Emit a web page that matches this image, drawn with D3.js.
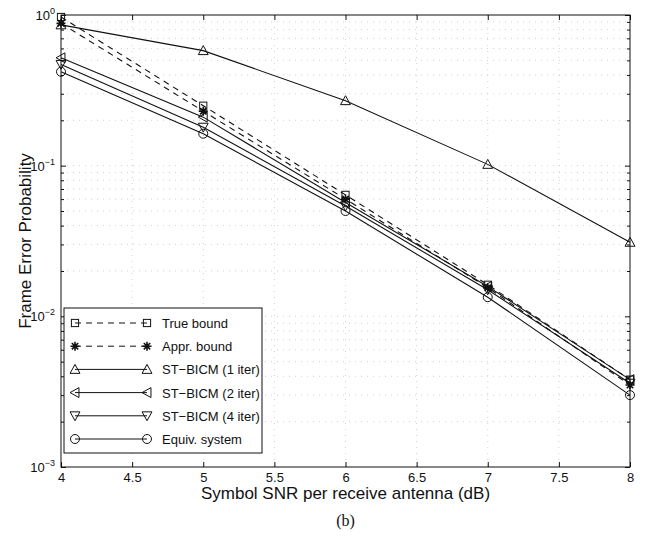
<!DOCTYPE html>
<html>
<head>
<meta charset="utf-8">
<script src="https://cdn.jsdelivr.net/npm/d3@7"></script>
<style>
  body { margin: 0; background: #fff; }
  text { font-family: 'Liberation Sans', Arial, sans-serif; fill: #111; }
</style>
</head>
<body>
<div id="chart"></div>
<script>
// SNR points (dB)
var snr = [4, 5, 6, 7, 8];
var trueBound = [0.97, 0.25, 0.064, 0.0162, 0.0038];
var apprBound = [0.88, 0.23, 0.060, 0.0155, 0.0035];
var iter1 = [0.86, 0.58, 0.27, 0.102, 0.031];
var iter2 = [0.52, 0.21, 0.057, 0.0158, 0.0038];
var iter4 = [0.47, 0.18, 0.054, 0.0150, 0.0036];
var equiv = [0.42, 0.163, 0.050, 0.0134, 0.0030];
var seriesNames = ['True bound', 'Appr. bound', 'ST\u2212BICM (1 iter)', 'ST\u2212BICM (2 iter)', 'ST\u2212BICM (4 iter)', 'Equiv. system'];
var xTicks = [4, 4.5, 5, 5.5, 6, 6.5, 7, 7.5, 8];
var yDecades = [-3, -2, -1, 0];

var series = [
  {name: seriesNames[0], values: trueBound, marker: 'square', dash: '6,5'},
  {name: seriesNames[1], values: apprBound, marker: 'star', dash: '6,5'},
  {name: seriesNames[2], values: iter1, marker: 'up', dash: null},
  {name: seriesNames[3], values: iter2, marker: 'left', dash: null},
  {name: seriesNames[4], values: iter4, marker: 'down', dash: null},
  {name: seriesNames[5], values: equiv, marker: 'circle', dash: null}
];

var W = 645, H = 539;
var margin = {top: 15, right: 15, bottom: 72, left: 61};
var width = W - margin.left - margin.right;
var height = H - margin.top - margin.bottom;

var svg = d3.select('#chart').append('svg')
    .attr('width', W).attr('height', H);
var g = svg.append('g')
    .attr('transform', 'translate(' + margin.left + ',' + margin.top + ')');

var x = d3.scaleLinear().domain([4, 8]).range([0, width]);
var y = d3.scaleLog().domain([1e-3, 1]).range([height, 0]);

// minor values on the log axis
var yMinor = [];
for (var e = -3; e < 0; e++) {
  for (var m = 2; m <= 9; m++) yMinor.push(m * Math.pow(10, e));
}
var yMajor = yDecades.map(function(d) { return Math.pow(10, d); });

// faint dotted grid (scanned look)
var grid = g.append('g').attr('stroke', '#c4c4c4').attr('stroke-width', 0.8)
    .attr('stroke-dasharray', '1,5');
grid.selectAll('line.gx').data(xTicks.slice(1, -1)).enter().append('line')
    .attr('x1', function(d) { return x(d); }).attr('x2', function(d) { return x(d); })
    .attr('y1', 0).attr('y2', height);
grid.selectAll('line.gy').data(yMinor.concat(yMajor.slice(1, -1))).enter().append('line')
    .attr('x1', 0).attr('x2', width)
    .attr('y1', function(d) { return y(d); }).attr('y2', function(d) { return y(d); });

// axes with inward ticks
var tickStyle = function(sel) {
  sel.select('.domain').remove();
  sel.selectAll('line').attr('stroke', '#111');
  sel.selectAll('text').style('font-size', '13px').style('font-family', "'Liberation Sans', Arial, sans-serif");
};
g.append('g').attr('transform', 'translate(0,' + height + ')')
    .call(d3.axisBottom(x).tickValues(xTicks).tickSize(-5).tickPadding(6).tickFormat(d3.format('')))
    .call(tickStyle);
g.append('g')
    .call(d3.axisTop(x).tickValues(xTicks).tickSize(-5).tickFormat(''))
    .call(tickStyle);
g.append('g')
    .call(d3.axisLeft(y).tickValues(yMajor).tickSize(-5).tickFormat(''))
    .call(tickStyle);
g.append('g')
    .call(d3.axisLeft(y).tickValues(yMinor).tickSize(-3).tickFormat(''))
    .call(tickStyle);
g.append('g').attr('transform', 'translate(' + width + ',0)')
    .call(d3.axisRight(y).tickValues(yMajor).tickSize(-5).tickFormat(''))
    .call(tickStyle);
g.append('g').attr('transform', 'translate(' + width + ',0)')
    .call(d3.axisRight(y).tickValues(yMinor).tickSize(-3).tickFormat(''))
    .call(tickStyle);

// y tick labels as 10^n
var ylab = g.append('g').selectAll('text').data(yDecades).enter().append('text')
    .attr('x', -6).attr('y', function(d) { return y(Math.pow(10, d)) + 5; })
    .attr('text-anchor', 'end').style('font-size', '13px');
ylab.append('tspan').text('10');
ylab.append('tspan').attr('dy', -6).style('font-size', '9px')
    .text(function(d) { return d === 0 ? '0' : '\u2212' + (-d); });

// box
g.append('rect').attr('width', width).attr('height', height)
    .attr('fill', 'none').attr('stroke', '#111').attr('stroke-width', 1);

// marker drawing
function drawMarker(sel, type, s) {
  var p;
  if (type === 'square') {
    sel.append('rect').attr('x', -s * 0.8).attr('y', -s * 0.8).attr('width', s * 1.6).attr('height', s * 1.6)
        .attr('fill', 'none').attr('stroke', '#111');
  } else if (type === 'circle') {
    sel.append('circle').attr('r', s).attr('fill', 'none').attr('stroke', '#111');
  } else if (type === 'star') {
    p = d3.range(4).map(function(i) {
      var a = i * Math.PI / 4;
      return 'M' + (-s * Math.cos(a)) + ',' + (-s * Math.sin(a)) + 'L' + (s * Math.cos(a)) + ',' + (s * Math.sin(a));
    }).join('');
    sel.append('path').attr('d', p).attr('stroke', '#111').attr('stroke-width', 1.6);
  } else {
    var r = s * 1.1;
    var pts = {
      up: [[0, -r], [r, r * 0.8], [-r, r * 0.8]],
      down: [[0, r], [r, -r * 0.8], [-r, -r * 0.8]],
      left: [[-r, 0], [r * 0.8, -r], [r * 0.8, r]]
    }[type];
    sel.append('path').attr('d', d3.line()(pts) + 'Z').attr('fill', 'none').attr('stroke', '#111');
  }
}

var line = d3.line()
    .x(function(d, i) { return x(snr[i]); })
    .y(function(d) { return y(d); });

series.forEach(function(s) {
  g.append('path').datum(s.values)
      .attr('d', line).attr('fill', 'none').attr('stroke', '#111').attr('stroke-width', 1.1)
      .attr('stroke-dasharray', s.dash);
  g.selectAll(null).data(s.values).enter().append('g')
      .attr('transform', function(d, i) { return 'translate(' + x(snr[i]) + ',' + y(d) + ')'; })
      .each(function() { drawMarker(d3.select(this), s.marker, 4.5); });
});

// legend
var legend = g.append('g').attr('transform', 'translate(3,' + (308 - margin.top) + ')');
legend.append('rect').attr('width', 198).attr('height', 145)
    .attr('fill', '#fff').attr('stroke', '#111');
var item = legend.selectAll('g.item').data(series).enter().append('g')
    .attr('transform', function(d, i) { return 'translate(0,' + (15 + i * 23.2) + ')'; });
item.append('line').attr('x1', 11).attr('x2', 83).attr('stroke', '#111')
    .attr('stroke-dasharray', function(d) { return d.dash; });
item.each(function(d) {
  var it = d3.select(this);
  drawMarker(it.append('g').attr('transform', 'translate(11,0)'), d.marker, 4.5);
  drawMarker(it.append('g').attr('transform', 'translate(83,0)'), d.marker, 4.5);
});
item.append('text').attr('x', 98).attr('y', 5).style('font-size', '13px')
    .text(function(d) { return d.name; });

// axis titles
svg.append('text').attr('x', margin.left + width / 2).attr('y', 499)
    .attr('text-anchor', 'middle').style('font-size', '17px')
    .text('Symbol SNR per receive antenna (dB)');
svg.append('text').attr('transform', 'translate(31,' + (margin.top + height / 2) + ') rotate(-90)')
    .attr('text-anchor', 'middle').style('font-size', '17px')
    .text('Frame Error Probability');
svg.append('text').attr('x', margin.left + width / 2).attr('y', 526)
    .attr('text-anchor', 'middle').style('font-size', '16px')
    .style('font-family', "'Liberation Serif', 'Times New Roman', serif")
    .text('(b)');
</script>
</body>
</html>
